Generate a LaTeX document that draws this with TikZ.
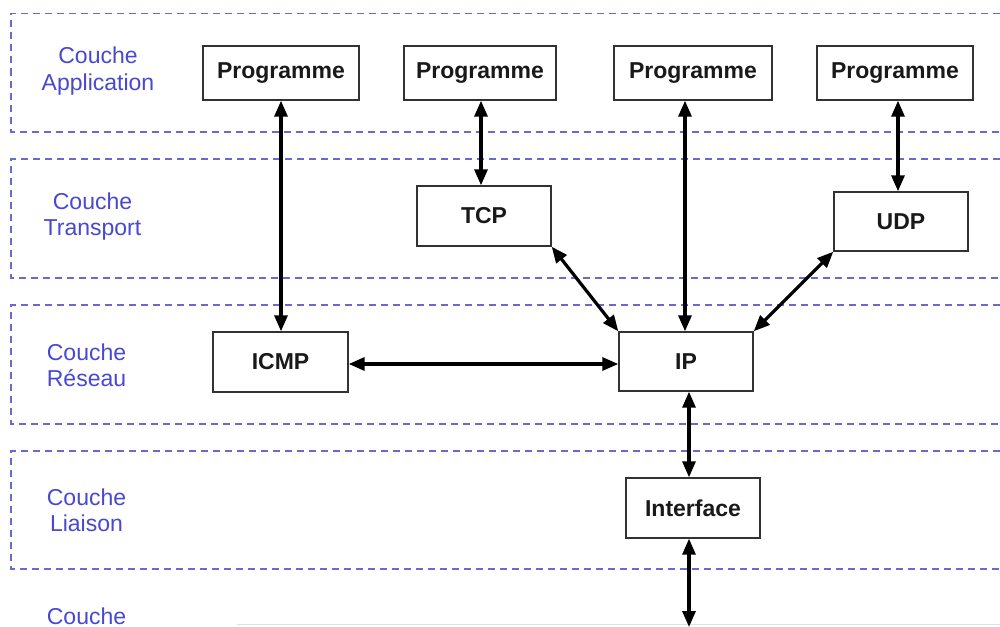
\documentclass[tikz,border=0pt]{standalone}
\usepackage{fontspec}
\setmainfont{Liberation Sans}
\usetikzlibrary{arrows.meta,calc}
\definecolor{layerblue}{RGB}{72,72,208}
\definecolor{banddash}{RGB}{105,105,210}
\definecolor{boxline}{RGB}{50,50,50}
\tikzset{
  band/.style={draw=banddash, line width=1.1pt, dash pattern=on 7pt off 5pt},
  layertext/.style={text=layerblue, font=\fontsize{23}{26.5}\selectfont, inner sep=0pt},
  layerlabel/.style={layertext, align=center},
  proto/.style={draw=boxline, line width=1.4pt, fill=white, inner sep=0pt,
    font=\fontsize{23}{26}\selectfont\bfseries, text=black!90},
  link/.style={line width=3.2pt, {Triangle[length=16pt,width=13pt]}-{Triangle[length=16pt,width=13pt]}}
}
\begin{document}
\begin{tikzpicture}[x=1pt,y=-1pt]
  \useasboundingbox[fill=white] (0,0) rectangle (1000,626);

  % layer bands (open to the right)
  \foreach \top/\bot in {13.5/132, 159/278, 305/424, 451/569}{
    \draw[band] (1012,\top) -- (11,\top) -- (11,\bot) -- (1012,\bot);
  }
  % edge of the physical layer box, at the very bottom
  \draw[gray!25, line width=1pt] (237,624) -- (1005,624);

  % layer names
  \node[layerlabel] (lapp) at (98,71) {Couche\\Application};
  \node[layerlabel] (ltr)  at (92.5,216.5) {Couche\\Transport};
  \node[layerlabel] (lres) at (86.5,365.5) {Couche\\Réseau};
  \node[layerlabel] (llia) at (86.5,510.5) {Couche\\Liaison};
  \node[layertext, anchor=base] (lphy) at (86.5,624) {Couche};

  % protocol boxes
  \node[proto, minimum width=156pt, minimum height=54pt] (p1) at (281,73) {Programme};
  \node[proto, minimum width=152pt, minimum height=54pt] (p2) at (480,73) {Programme};
  \node[proto, minimum width=158pt, minimum height=54pt] (p3) at (693,73) {Programme};
  \node[proto, minimum width=156pt, minimum height=54pt] (p4) at (895,73) {Programme};
  \node[proto, minimum width=134pt, minimum height=60pt] (tcp) at (484,216) {TCP};
  \node[proto, minimum width=134pt, minimum height=59pt] (udp) at (901,221.5) {UDP};
  \node[proto, minimum width=135pt, minimum height=60pt] (icmp) at (280.5,362) {ICMP};
  \node[proto, minimum width=134pt, minimum height=59pt] (ip) at (686,361.5) {IP};
  \node[proto, minimum width=134pt, minimum height=60pt] (iface) at (693,508) {Interface};

  \coordinate (phys) at (689,627);

  % connections
  \draw[link] (p1.south) -- (p1.south |- icmp.north);
  \draw[link] ([xshift=1pt]p2.south) -- ([xshift=1pt]p2.south |- tcp.north);
  \draw[link] ([xshift=-1pt]ip.north |- p3.south) -- ([xshift=-1pt]ip.north);
  \draw[link] ([xshift=3pt]p4.south) -- ([xshift=3pt]p4.south |- udp.north);
  \draw[link] (tcp.south east) -- (ip.north west);
  \draw[link] (udp.south west) -- (ip.north east);
  \draw[link] ([yshift=-2pt]icmp.east) -- ([yshift=-2pt]icmp.east -| ip.west);
  \draw[link] ([xshift=3pt]ip.south) -- ([xshift=3pt]ip.south |- iface.north);
  \draw[link] (iface.south -| phys) -- (phys);
\end{tikzpicture}
\end{document}
